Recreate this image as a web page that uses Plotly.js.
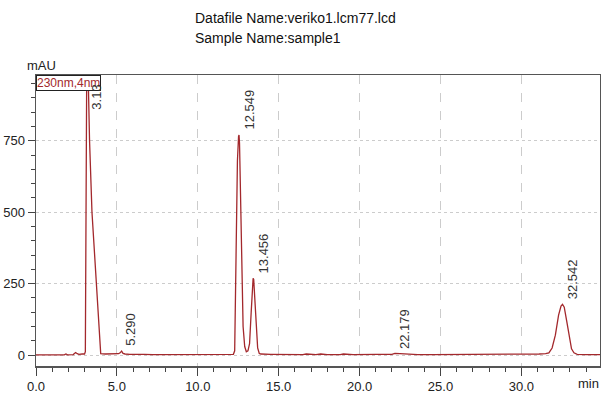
<!DOCTYPE html>
<html>
<head>
<meta charset="utf-8">
<script src="https://cdn.plot.ly/plotly-3.0.1.min.js"></script>
<style>html,body{margin:0;padding:0;background:#fff;}#chart{width:601px;height:399px;}</style>
</head>
<body>
<div id="chart"></div>
<script>
// Chromatogram (230nm,4nm): retention time (min) vs absorbance (mAU)
var timeMin = [0.0, 0.5, 1.0, 1.5, 1.75, 1.85, 1.95, 2.3, 2.45, 2.55, 2.65, 2.85, 3.0, 3.05, 3.08, 3.11, 3.14, 3.18, 3.21, 3.31, 3.46, 3.6, 3.73, 3.85, 3.95, 4.0, 4.3, 4.7, 4.9, 5.0, 5.1, 5.2, 5.29, 5.38, 5.5, 5.8, 6.3, 6.5, 6.7, 7.2, 8.0, 8.6, 8.8, 9.5, 10.5, 11.5, 12.0, 12.2, 12.28, 12.33, 12.39, 12.45, 12.52, 12.549, 12.58, 12.67, 12.73, 12.8, 12.9, 13.0, 13.1, 13.2, 13.3, 13.36, 13.42, 13.456, 13.52, 13.6, 13.7, 13.8, 13.9, 14.5, 15.5, 16.5, 16.7, 17.3, 17.6, 18.0, 18.8, 19.0, 19.6, 20.0, 21.0, 22.0, 22.179, 22.5, 23.0, 23.6, 24.5, 25.0, 25.3, 25.6, 26.5, 27.5, 28.5, 29.5, 30.5, 31.0, 31.1, 31.5, 31.7, 31.9, 32.1, 32.3, 32.45, 32.542, 32.65, 32.8, 32.95, 33.1, 33.25, 33.45, 34.0, 34.9];
var absorbance = [1, 1, 1, 1, 1, 4, 1, 2, 9, 5, 3, 4, 4, 12, 400, 900, 1050, 1100, 985, 750, 500, 370, 250, 110, 15, 5, 4, 4, 6, 4, 5, 8, 14, 6, 4, 3, 3, 5, 3, 2, 2, 2, 1, 2, 2, 2, 2, 3, 15, 200, 500, 680, 765, 770, 740, 500, 250, 100, 30, 12, 15, 40, 150, 240, 269, 265, 200, 90, 25, 6, 4, 3, 2, 2, 4, 2, 4, 2, 2, 4, 2, 3, 3, 3, 6, 5, 3, 2, 2, 2, 4, 2, 2, 2, 2, 2, 2, 2, 4, 5, 8, 25, 70, 140, 172, 178, 168, 120, 65, 22, 8, 3, 2, 2];

// Peak labels (retention times) and the height at which each label sits
var peakTimes = [3.13, 5.29, 12.549, 13.456, 22.179, 32.542];
var peakLabels = ['3.13', '5.290', '12.549', '13.456', '22.179', '32.542'];
var peakLabelY = [840, 14, 770, 269, 5, 178];

var headerLines = ['Datafile Name:veriko1.lcm77.lcd', 'Sample Name:sample1'];

var xTickVals = [0, 5, 10, 15, 20, 25, 30];
var yTickVals = [0, 250, 500, 750];

var sans = 'Liberation Sans, Arial, sans-serif';

var trace = {
  x: timeMin, y: absorbance, type: 'scatter', mode: 'lines',
  line: {color: '#a3282c', width: 1.3},
  showlegend: false, hoverinfo: 'skip'
};

var annotations = [
  {xref: 'paper', yref: 'paper', x: 0, y: 1, xanchor: 'left', yanchor: 'top',
   text: '230nm,4nm', showarrow: false, font: {family: sans, size: 12, color: '#a3282c'},
   bgcolor: '#ffffff', bordercolor: '#222', borderwidth: 1, borderpad: 0},
  {xref: 'paper', yref: 'paper', x: 0, y: 1, xanchor: 'center', yanchor: 'bottom',
   text: 'mAU', showarrow: false, font: {family: sans, size: 13, color: '#222'}, xshift: 5, yshift: 0},
  {xref: 'paper', yref: 'paper', x: 1, y: 0, xanchor: 'right', yanchor: 'top',
   text: 'min', showarrow: false, font: {family: sans, size: 13, color: '#222'}, xshift: 1, yshift: -8}
];
var headerShift = [57, 37];
for (var h = 0; h < headerLines.length; h++) {
  annotations.push({
    xref: 'paper', yref: 'paper', x: 0, y: 1, xanchor: 'left', yanchor: 'middle',
    text: headerLines[h], showarrow: false, xshift: 157, yshift: headerShift[h],
    font: {family: sans, size: 14, color: '#111'}
  });
}
for (var i = 0; i < peakTimes.length; i++) {
  annotations.push({
    x: peakTimes[i], y: peakLabelY[i], xref: 'x', yref: 'y',
    text: peakLabels[i], showarrow: false, textangle: -90,
    xanchor: 'left', yanchor: 'bottom', yshift: 3, xshift: 0,
    font: {family: sans, size: 13, color: '#333'}
  });
}

var layout = {
  width: 601, height: 399,
  margin: {l: 36, r: 1, t: 75, b: 33},
  paper_bgcolor: '#fff', plot_bgcolor: '#fff',
  font: {family: sans, size: 13, color: '#222'},
  xaxis: {
    range: [0, 34.86], tickvals: xTickVals, ticktext: xTickVals.map(function(v){return v.toFixed(1);}),
    ticks: 'outside', ticklen: 8, tickcolor: '#444', tickwidth: 1,
    showline: true, linecolor: '#555', linewidth: 1.5, mirror: true,
    showgrid: true, gridcolor: '#cccccc', griddash: 'dash', gridwidth: 1, zeroline: false,
    minor: {dtick: 1, tick0: 0, ticks: 'outside', ticklen: 4, tickcolor: '#444', showgrid: false},
    tickfont: {family: sans, size: 13, color: '#222'}
  },
  yaxis: {
    range: [-38, 980], tickvals: yTickVals,
    ticks: 'outside', ticklen: 7, tickcolor: '#444', tickwidth: 1,
    showline: true, linecolor: '#555', linewidth: 1.5, mirror: true,
    showgrid: true, gridcolor: '#cccccc', griddash: 'dot', gridwidth: 1, zeroline: false,
    minor: {dtick: 50, tick0: 0, ticks: 'outside', ticklen: 4, tickcolor: '#444', showgrid: false},
    tickfont: {family: sans, size: 13, color: '#222'}
  },
  annotations: annotations
};

Plotly.newPlot('chart', [trace], layout, {staticPlot: true, displayModeBar: false});
</script>
</body>
</html>
